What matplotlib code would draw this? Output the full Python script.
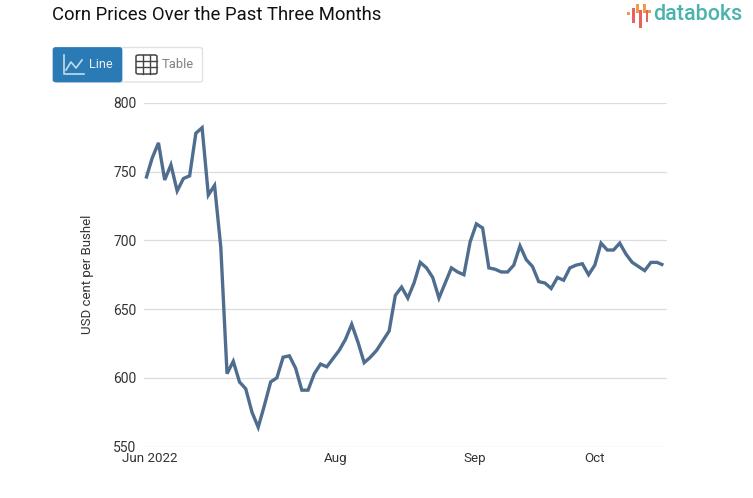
import matplotlib
matplotlib.use("Agg")
import matplotlib.pyplot as plt
from matplotlib.patches import FancyBboxPatch, Rectangle
from matplotlib.lines import Line2D
from matplotlib.transforms import ScaledTranslation

prices = [745, 760, 771, 744, 755, 736, 745, 747, 778, 782, 733, 740, 695, 603,
          612, 597, 592, 575, 564, 580, 597, 600, 615, 616, 607, 591, 591, 603,
          610, 608, 614, 620, 628, 639, 626, 611, 615, 620, 627, 634, 660, 666,
          658, 669, 684, 680, 673, 658, 669, 680, 677, 675, 699, 712, 709, 680,
          679, 677, 677, 682, 696, 686, 681, 670, 669, 665, 673, 671, 680, 682,
          683, 675, 682, 698, 693, 693, 698, 690, 684, 681, 678, 684, 684, 682]
y_ticks = [550, 600, 650, 700, 750, 800]
x_tick_pos = [0, 30.4, 52.7, 72]
x_tick_labels = ["Jun 2022", "Aug", "Sep", "Oct"]
title = "Corn Prices Over the Past Three Months"
y_label = "USD cent per Bushel"

plt.rcParams["font.family"] = ["Roboto", "DejaVu Sans"]
W, H = 753, 498
fig = plt.figure(figsize=(W / 100, H / 100), dpi=100)


def fx(x):
    return x / W


def fy(y):
    return 1 - y / H


ax = fig.add_axes([fx(144), fy(446.5), (666.5 - 144) / W, 343.5 / H])
ax.set_xlim(-0.32, 83.5)
ax.set_ylim(550, 800)
ax.plot(range(len(prices)), prices, color="#4f6d8f", lw=2.4, solid_joinstyle="miter",
        solid_capstyle="butt", clip_on=False, zorder=3)
ax.set_yticks(y_ticks)
ax.set_xticks(x_tick_pos)
ax.set_xticklabels(x_tick_labels)
ax.grid(axis="y", color="#dcdcdc", lw=0.9)
ax.set_axisbelow(True)
for s in ax.spines.values():
    s.set_visible(False)
ax.tick_params(axis="y", length=0, labelsize=10, labelcolor="#333333", pad=5.5)
ax.tick_params(axis="x", length=0, labelsize=9.6, labelcolor="#333333", pad=4)
first = ax.xaxis.get_majorticklabels()[0]
first.set_transform(first.get_transform() + ScaledTranslation(4 / 100, 0, fig.dpi_scale_trans))
fig.text(fx(87), fy(274), y_label, rotation=90, ha="center", va="center",
         fontsize=9.5, color="#333333")

fig.text(fx(52), fy(14.5), title, ha="left", va="center", fontsize=13.35, color="#111111")

# Chart-type buttons
fig.add_artist(FancyBboxPatch((fx(54), fy(82)), 148.5 / W, 34.5 / H,
                              boxstyle="round,pad=0,rounding_size=0.004",
                              fc="white", ec="#e2e2e2", lw=1, transform=fig.transFigure))
fig.add_artist(FancyBboxPatch((fx(53), fy(82)), 69 / W, 34.5 / H,
                              boxstyle="round,pad=0,rounding_size=0.004",
                              fc="#2a7ab5", ec="#2a7ab5", lw=0.5, transform=fig.transFigure))
fig.text(fx(89), fy(64.5), "Line", ha="left", va="center", fontsize=9.2, color="#e8f1f8")
fig.text(fx(162), fy(64.5), "Table", ha="left", va="center", fontsize=9.4, color="#808080")


def seg(xs, ys, color, lw):
    fig.add_artist(Line2D([fx(v) for v in xs], [fy(v) for v in ys], color=color, lw=lw,
                          transform=fig.transFigure))


seg([64, 64, 84], [55, 74, 74], "#c5dcec", 1.2)
seg([66, 71, 76, 82], [70, 62, 68, 60], "#c5dcec", 1.2)
fig.add_artist(FancyBboxPatch((fx(136), fy(74)), 21 / W, 19 / H,
                              boxstyle="round,pad=0,rounding_size=0.003",
                              fc="white", ec="#444444", lw=1.1, transform=fig.transFigure))
for gx in (143, 150):
    seg([gx, gx], [55, 74], "#444444", 1)
for gy in (61, 67.5):
    seg([136, 157], [gy, gy], "#444444", 1)

# Logo
logo_bars = [(627, 12, 3, "#ee9a4d"), (632, 8, 15, "#e8625a"), (636, 4, 9, "#ee9a4d"),
             (639, 10, 18, "#e8625a"), (643, 4, 9, "#ee9a4d"), (645.5, 10, 12, "#e8625a"),
             (648, 10, 3, "#ee9a4d")]
for x0, y0, h, c in logo_bars:
    fig.add_artist(Rectangle((fx(x0), fy(y0 + h)), 2.6 / W, h / H, fc=c, ec="none",
                             transform=fig.transFigure))
fig.text(fx(653), fy(15), "databoks", ha="left", va="center", fontsize=15.5,
         color="#4bb3ad", fontweight="medium")

fig.savefig("out.png", dpi=100, facecolor="white")
